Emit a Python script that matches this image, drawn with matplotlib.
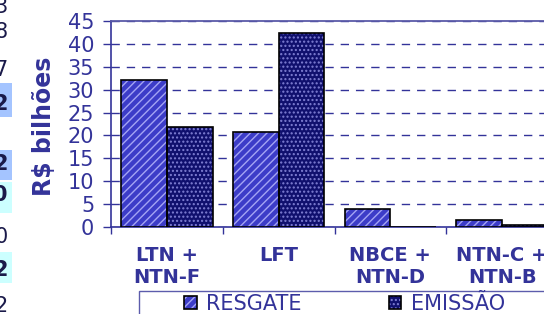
import matplotlib
matplotlib.use("Agg")
import matplotlib.pyplot as plt
import numpy as np
from matplotlib.patches import Patch, Rectangle
from matplotlib.legend_handler import HandlerTuple

# data (R$ bilhoes)
categories = ["LTN +\nNTN-F", "LFT", "NBCE +\nNTN-D", "NTN-C +\nNTN-B"]
resgate = [32.1, 20.7, 3.9, 1.6]
emissao = [21.9, 42.3, 0.0, 0.4]
series_names = ["RESGATE", "EMISSÃO"]

# cropped neighbour table on the left edge
edge_digits = ["3", "8", "7", "2", "2", "0", "0", "2", "2"]

NAVY = "#333399"
W, H = 544, 314

plt.rcParams["font.family"] = ["DejaVu Sans"]
plt.rcParams["hatch.linewidth"] = 1.0

fig = plt.figure(figsize=(W / 100, H / 100), dpi=100)

def fx(px): return px / W
def fy(py): return 1 - py / H

ax = fig.add_axes([fx(111), fy(227), fx(558) - fx(111), fy(21) - fy(227)])

x = np.arange(len(categories))
bw = 0.41
styles = [("#3c3cc8", "#a4a4f4", "////"), ("#10106e", "#8080d4", "....")]
handles = []
for i, (vals, (fc, hc, hatch)) in enumerate(zip([resgate, emissao], styles)):
    pos = x + (i - 0.5) * bw
    ax.bar(pos, vals, bw, color=fc, edgecolor="none", zorder=3)
    ax.bar(pos, vals, bw, facecolor="none", edgecolor=hc, hatch=hatch, linewidth=0, zorder=4)
    ax.bar(pos, vals, bw, facecolor="none", edgecolor="black", linewidth=1.2, zorder=5)
    handles.append((Patch(facecolor=fc, edgecolor="none"),
                    Patch(facecolor="none", edgecolor=hc, hatch=hatch, linewidth=0),
                    Patch(facecolor="none", edgecolor="black", linewidth=1.2)))

ax.set_xlim(-0.5, len(categories) - 0.5)
ax.set_ylim(0, 45)
ax.set_yticks(np.arange(0, 46, 5))
ax.set_xticks(np.arange(-0.5, len(categories), 1.0))
ax.set_xticklabels([])
ax.set_xticks(x, minor=True)
ax.set_xticklabels(categories, minor=True, fontsize=14, fontweight="bold", color=NAVY)
ax.tick_params(axis="x", which="minor", length=0, pad=14)
ax.tick_params(axis="x", which="major", length=5, color=NAVY, width=1)
ax.tick_params(axis="y", length=6, color=NAVY, width=1, labelsize=15, labelcolor=NAVY, pad=6)

ax.yaxis.grid(True, linestyle=(0, (6, 5)), color=NAVY, linewidth=1.0, zorder=1)
for s in ["left", "bottom"]:
    ax.spines[s].set_color(NAVY)
    ax.spines[s].set_linewidth(1.2)
ax.spines["top"].set_color("#5a5aa8")
ax.spines["top"].set_linewidth(1.3)
ax.spines["right"].set_visible(False)

ax.set_ylabel("R$ bilhões", fontsize=17, fontweight="bold", color=NAVY)
ax.yaxis.set_label_coords((56 - 111) / (558 - 111), 0.49)

# legend frame (cropped at right/bottom)
fig.add_artist(Rectangle((fx(139), fy(330)), fx(570) - fx(139), fy(291) - fy(330),
                         transform=fig.transFigure, facecolor="white",
                         edgecolor="#5c5cac", linewidth=1.0))
fig.legend(handles, series_names, handler_map={tuple: HandlerTuple(ndivide=1, pad=0)},
           loc="upper left", bbox_to_anchor=(fx(184), fy(294)), ncol=2, frameon=False,
           fontsize=15, labelcolor=NAVY, handlelength=0.6, handleheight=0.6,
           handletextpad=0.45, columnspacing=4.2, borderpad=0, borderaxespad=0)

# partial digits of the neighbouring table
edge_y = [7, 32, 70, 104, 164, 195, 237, 270, 306]
edge_bold = [False, False, False, True, True, True, False, True, False]
edge_bg = [None, None, None, "#a4c4ff", "#a4c4ff", "#ccffff", None, "#ccffff", None]
edge_bg_span = [None, None, None, (83, 117), (150, 180), (182, 213), None, (252, 283), None]
for d, yy, b, bg, span in zip(edge_digits, edge_y, edge_bold, edge_bg, edge_bg_span):
    if bg:
        fig.add_artist(Rectangle((0, fy(span[1])), fx(12), fy(span[0]) - fy(span[1]),
                                 transform=fig.transFigure, facecolor=bg, edgecolor="none"))
    fig.text(fx(8), fy(yy), d, ha="right", va="center", fontsize=15,
             fontweight="bold" if b else "normal", color="#1a1a4a")

fig.savefig("out.png", dpi=100)
